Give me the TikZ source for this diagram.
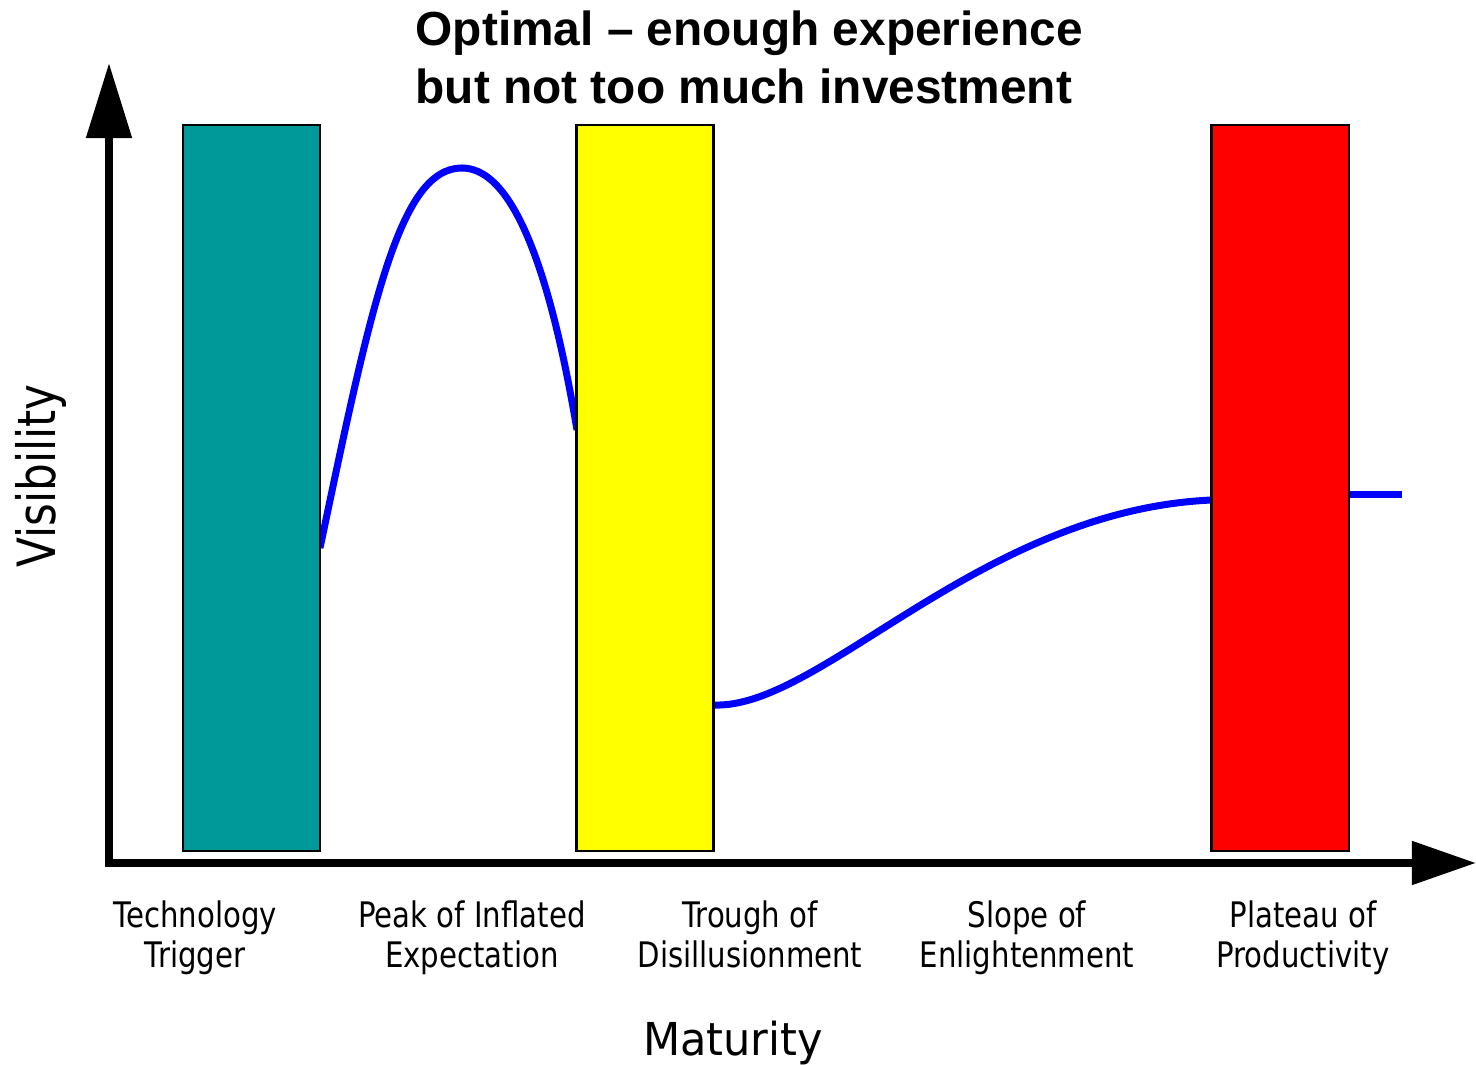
\documentclass[tikz,border=0pt]{standalone}
\usepackage{fontspec}
\setmainfont{Liberation Sans}
\newfontfamily\titlefont{Liberation Sans}
\newfontfamily\phasefont[FakeStretch=0.83]{DejaVu Sans}
\newfontfamily\matfont[FakeStretch=0.95]{DejaVu Sans}
\usepackage{tikz}
\usetikzlibrary{arrows.meta,backgrounds}
\definecolor{hypeteal}{HTML}{009999}
\definecolor{hypeyellow}{HTML}{FFFF00}
\definecolor{hypered}{HTML}{FF0000}
\definecolor{hypeblue}{HTML}{0000FF}
\tikzstyle{hype}=[
  x=0.01cm,y=-0.01cm,font=\phasefont\fontsize{10}{11.4}\selectfont
]
\tikzstyle{phasebox}=[
  draw,line width=0.6pt,inner sep=0pt,minimum width=1.37cm,minimum height=7.26cm
]
\tikzstyle{axis}=[
  line width=0.08cm,line cap=rect
]
\tikzstyle{curve}=[
  line width=0.07cm,draw=hypeblue
]
\tikzstyle{phase}=[
  align=center,anchor=north,inner sep=0pt
]

\begin{document}
\begin{tikzpicture}[hype]
      \useasboundingbox (0,0) rectangle (1476,1065);
      \coordinate (origin) at (109,863);
      \coordinate (ytip) at (109,63);
      \coordinate (xtip) at (1476,863);
      \draw [axis,-{Triangle[length=0.75cm,width=0.44cm]}] (origin) -- (ytip);
      \draw [axis,-{Triangle[length=0.64cm,width=0.42cm]}] (origin) -- (xtip);
      \node (trigger) at (251.5,488) [phasebox,fill=hypeteal] {};
      \node (trough) at (645,488) [phasebox,fill=hypeyellow] {};
      \node (plateau) at (1280,488) [phasebox,fill=hypered] {};
    \begin{scope}[on background layer]
      \draw [curve] (320,548) .. controls (372,300) and (400,168) .. (462,168)
        .. controls (520,168) and (555,300) .. (577,430);
      \draw [curve] (713,705) .. controls (820,710) and (980,510) .. (1212,500);
      \draw [curve] (1348,495) -- (1402,495);
    \end{scope}
      \node (techlbl) at (195,900) [phase] {Technology\\Trigger};
      \node (peaklbl) at (472,900) [phase] {Peak of Inflated\\Expectation};
      \node (troughlbl) at (750,900) [phase] {Trough of\\Disillusionment};
      \node (slopelbl) at (1027,900) [phase] {Slope of\\Enlightenment};
      \node (plateaulbl) at (1303,900) [phase] {Plateau of\\Productivity};
      \node (maturity) at (733,1055) [anchor=base,font=\matfont\fontsize{12.9}{15}\selectfont] {Maturity};
      \node (visibility) at (55,476) [anchor=base,rotate=90,font=\phasefont\fontsize{15}{18}\selectfont] {Visibility};
      \node (title) at (415,10) [anchor=north west,inner sep=0pt,align=left,
        font=\titlefont\bfseries\fontsize{13.6}{16.5}\selectfont]
        {Optimal – enough experience\\but not too much investment};
    \end{tikzpicture}
\end{document}
